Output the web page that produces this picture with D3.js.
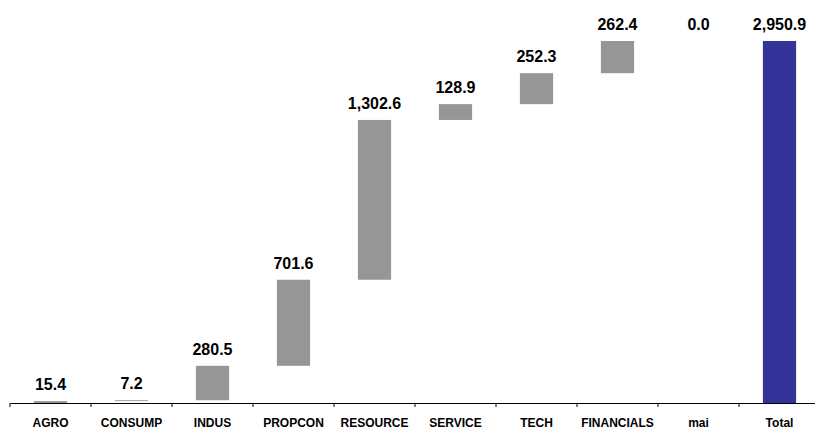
<!DOCTYPE html>
<html>
<head>
<meta charset="utf-8">
<script src="https://cdn.jsdelivr.net/npm/d3@7"></script>
<style>
  body { margin: 0; background: #fff; }
  svg { display: block; font-family: "Liberation Sans", Arial, sans-serif; }
</style>
</head>
<body>
<svg id="chart" width="815" height="434"></svg>
<script>
// categories and sector values (last one is the total)
var categories = ["AGRO", "CONSUMP", "INDUS", "PROPCON", "RESOURCE", "SERVICE", "TECH", "FINANCIALS", "mai", "Total"];
var values = [15.4, 7.2, 280.5, 701.6, 1302.6, 128.9, 252.3, 262.4, 0.0];
var total = 2950.9;

var svg = d3.select("#chart");

// build waterfall steps
var run = 0;
var steps = values.map(function(v, i){
  var s = { name: categories[i], start: run, end: run + v, value: v, isTotal: false };
  run += v;
  return s;
});
steps.push({ name: "Total", start: 0, end: total, value: total, isTotal: true });

var x = d3.scaleBand()
  .domain(categories)
  .range([10, 820])
  .paddingInner(0.59)
  .paddingOuter(0.295);

var y = d3.scaleLinear()
  .domain([0, total])
  .range([403, 41]);

var fmt = d3.format(",.1f");
var gap = (x.step() - x.bandwidth()) / 2;

// bars
svg.append("g").selectAll("rect")
  .data(steps)
  .enter().append("rect")
  .attr("x", function(d){ return x(d.name); })
  .attr("width", x.bandwidth())
  .attr("y", function(d){ return y(Math.max(d.start, d.end)); })
  .attr("height", function(d){ return Math.abs(y(d.start) - y(d.end)); })
  .attr("fill", function(d){ return d.isTotal ? "#333399" : "#969696"; });

// value labels
svg.append("g").selectAll("text")
  .data(steps)
  .enter().append("text")
  .attr("x", function(d){ return x(d.name) + x.bandwidth() / 2; })
  .attr("y", function(d){ return y(Math.max(d.start, d.end)) - 11; })
  .attr("text-anchor", "middle")
  .attr("font-size", 16)
  .attr("font-weight", "bold")
  .attr("fill", "#000")
  .text(function(d){ return fmt(d.value); });

// x axis
var axis = svg.append("g")
  .attr("transform", "translate(0,403)")
  .call(d3.axisBottom(x).tickSize(0).tickSizeOuter(0).tickPadding(15));

axis.select(".domain").attr("stroke", "#000");
axis.selectAll("text")
  .attr("font-size", 12)
  .attr("font-weight", "bold")
  .attr("font-family", "Liberation Sans, Arial, sans-serif")
  .attr("fill", "#000");

// tick marks at band boundaries
axis.selectAll(".bound")
  .data(categories)
  .enter().append("line")
  .attr("class", "bound")
  .attr("x1", function(d){ return x(d) - gap; })
  .attr("x2", function(d){ return x(d) - gap; })
  .attr("y1", 0)
  .attr("y2", 4)
  .attr("stroke", "#000");
</script>
</body>
</html>
